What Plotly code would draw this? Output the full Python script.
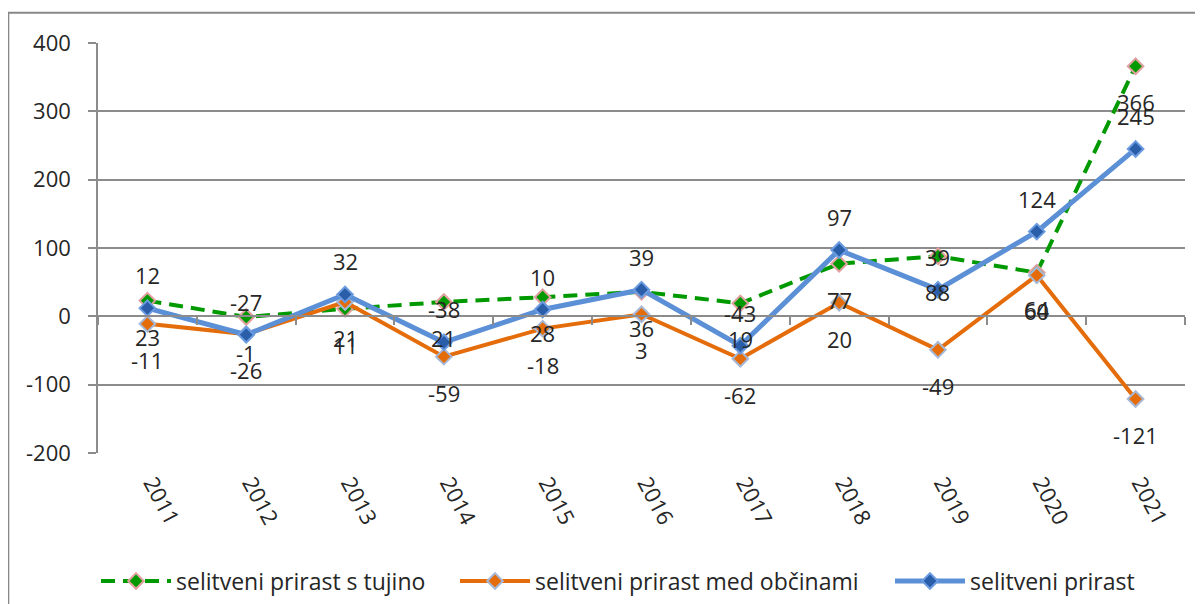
import plotly.graph_objects as go

years = [2011, 2012, 2013, 2014, 2015, 2016, 2017, 2018, 2019, 2020, 2021]
s_tujino = [23, -1, 11, 21, 28, 36, 19, 77, 88, 64, 366]
med_obcinami = [-11, -26, 21, -59, -18, 3, -62, 20, -49, 60, -121]
skupaj = [12, -27, 32, -38, 10, 39, -43, 97, 39, 124, 245]
names = ["selitveni prirast s tujino", "selitveni prirast med občinami", "selitveni prirast"]
y_ticks = [-200, -100, 0, 100, 200, 300, 400]

FONT = "Open Sans"
FS = 22
FS_LEG = 23
TXT = "#262626"
GRID = "#8c8c8c"

# page offset from the default 8px body margin of the html page
OFF = 8
PAGE_W, PAGE_H = 1203, 604
W, H = PAGE_W - OFF, PAGE_H - OFF
# plot area in page pixels: x 98..1185, y 43..453
L, R, T, B = 98 - OFF, PAGE_W - 1185, 43 - OFF, PAGE_H - 453
pw, ph = 1185 - 98, 453 - 43


def px_x(p):
    return (p - 98) / pw


def px_y(p):
    return (453 - p) / ph


fig = go.Figure()

fig.add_trace(go.Scatter(
    x=years, y=s_tujino, name=names[0], mode="lines+markers", legend="legend",
    line=dict(color="#009a00", width=4, dash="14px,8px"),
    marker=dict(symbol="diamond", size=12, color="#009a00",
                line=dict(color="#e0a0a0", width=2)),
))
fig.add_trace(go.Scatter(
    x=years, y=med_obcinami, name=names[1], mode="lines+markers", legend="legend2",
    line=dict(color="#e46c0a", width=4),
    marker=dict(symbol="diamond", size=12, color="#e46c0a",
                line=dict(color="#a6b8d6", width=2)),
))
fig.add_trace(go.Scatter(
    x=years, y=skupaj, name=names[2], mode="lines+markers", legend="legend3",
    line=dict(color="#5b8fd6", width=5),
    marker=dict(symbol="diamond", size=12, color="#2a5ea8",
                line=dict(color="#6b9be0", width=2)),
))
# helper trace so the zero-line category axis is drawn
fig.add_trace(go.Scatter(x=years, y=[None] * len(years), xaxis="x2",
                         showlegend=False, hoverinfo="skip", mode="lines"))

annotations = []
for series, shift in ((s_tujino, -36), (med_obcinami, -36), (skupaj, 33)):
    for xv, yv in zip(years, series):
        annotations.append(dict(x=xv, y=yv, xref="x", yref="y", text=str(yv),
                                showarrow=False, yshift=shift,
                                font=dict(family=FONT, size=FS, color=TXT)))

boundaries = [y - 0.5 for y in years] + [years[-1] + 0.5]


def leg(left_px):
    return dict(orientation="h", x=px_x(left_px), xanchor="left",
                y=px_y(581), yanchor="middle",
                font=dict(family=FONT, size=FS_LEG, color=TXT),
                itemwidth=70, bgcolor="rgba(0,0,0,0)")


fig.update_layout(
    width=W, height=H,
    margin=dict(l=L, r=R, t=T, b=B, autoexpand=False),
    paper_bgcolor="white", plot_bgcolor="white",
    font=dict(family=FONT, size=FS, color=TXT),
    showlegend=True,
    legend=leg(96), legend2=leg(455), legend3=leg(890),
    xaxis=dict(range=[years[0] - 0.5, years[-1] + 0.5], tickvals=years,
               ticktext=[str(y) for y in years], tickangle=62,
               showgrid=False, zeroline=False, showline=False, ticks="",
               ticklabelstandoff=12, ticklabelshift=5, automargin=False,
               tickfont=dict(family=FONT, size=FS, color=TXT)),
    xaxis2=dict(overlaying="x", matches="x", anchor="free",
                position=(0 - y_ticks[0]) / (y_ticks[-1] - y_ticks[0]),
                showline=True, linecolor=GRID, linewidth=1.5,
                ticks="outside", ticklen=8, tickcolor=GRID, tickwidth=1.5,
                tickvals=boundaries, showticklabels=False, showgrid=False,
                zeroline=False, automargin=False),
    yaxis=dict(range=[y_ticks[0], y_ticks[-1]], tickvals=y_ticks,
               ticktext=[str(v) for v in y_ticks],
               showgrid=True, gridcolor=GRID, gridwidth=1.5,
               zeroline=False, showline=True, linecolor=GRID, linewidth=1.5,
               ticks="outside", ticklen=8, tickcolor=GRID, tickwidth=1.5,
               ticklabelstandoff=13, automargin=False,
               tickfont=dict(family=FONT, size=FS, color=TXT)),
    annotations=annotations,
    shapes=[dict(type="rect", xref="paper", yref="paper",
                 x0=px_x(8.3), x1=px_x(PAGE_W + 20),
                 y0=px_y(PAGE_H + 20), y1=px_y(12.7),
                 line=dict(color="#888888", width=2), fillcolor="rgba(0,0,0,0)",
                 layer="below")],
)

fig.write_html("out.html")
